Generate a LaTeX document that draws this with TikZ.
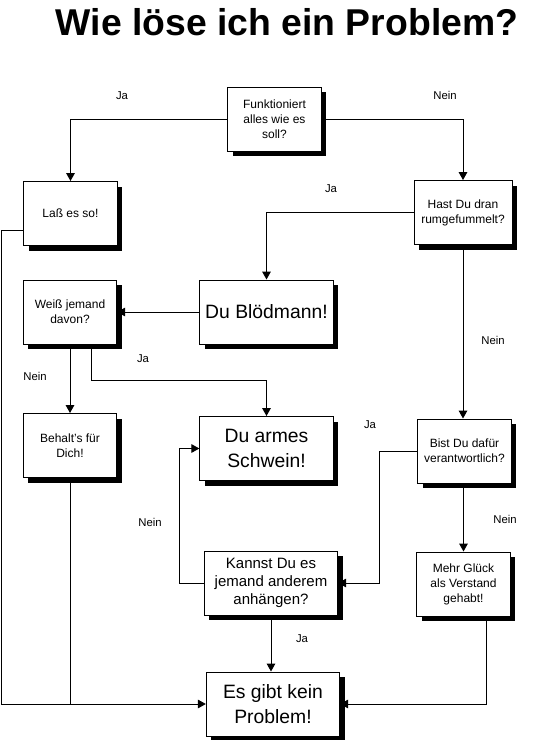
\documentclass[tikz,border=0pt]{standalone}
\usepackage{fontspec}
\setmainfont{Liberation Sans}
\usetikzlibrary{arrows.meta, shadows}

\begin{document}
\begin{tikzpicture}[x=0.75pt, y=-0.75pt,
		box/.style={rectangle, draw, fill=white, line width=0.75pt, align=center, inner sep=1pt,
			minimum width=70pt, minimum height=48pt, font=\fontsize{9}{11.25}\selectfont,
			drop shadow={shadow xshift=3.75pt, shadow yshift=-3.75pt, fill=black, opacity=1}},
		bigbox/.style={box, minimum width=100pt, font=\fontsize{14.5}{18.75}\selectfont},
		mylabel/.style={font=\fontsize{8.5}{10}\selectfont},
		ttl/.style={font=\fontsize{28}{32}\selectfont\bfseries, anchor=base},
		every path/.style={line width=0.75pt},
		>={Triangle[width=6.5pt, length=6pt]}
		]
		
		\useasboundingbox (0,0) rectangle (540,740);
		
		\node[ttl] (title) at (287,35) {Wie löse ich ein Problem?};
		
		\node[box] (fk) at (274.5, 119) {Funktioniert\\alles wie es\\soll?};
		\node[box] (ls) at (70.5, 213.5) {Laß es so!};
		\node[box, minimum width=73.5pt] (hd) at (463, 212.5) {Hast Du dran\\rumgefummelt?};
		\node[box] (wj) at (70, 312) {Weiß jemand\\davon?};
		\node[bigbox] (db) at (266.5, 312) {Du Blödmann!};
		\node[box] (bh) at (70, 445.5) {Behalt's für\\Dich!};
		\node[bigbox] (da) at (266.5, 448.5) {Du armes\\Schwein!};
		\node[box] (bd) at (464.5, 451) {Bist Du dafür\\verantwortlich?};
		\node[bigbox, font=\fontsize{11.25}{13.5}\selectfont] (kd) at (271, 583) {Kannst Du es\\jemand anderem\\anhängen?};
		\node[box] (mg) at (463.5, 584) {Mehr Glück\\als Verstand\\gehabt!};
		\node[bigbox] (eg) at (273, 704) {Es gibt kein\\Problem!};
		
		\draw[->] (fk.west) -| (ls.north);
		\draw[->] (fk.east) -| (hd.north);
		\draw[->] (hd.west) -| (db.north);
		\draw[->] (hd.south) -- (hd.south |- bd.north);
		\draw[->] (db.west) -- (wj.east);
		\draw[->] (wj.south) -- (bh.north);
		\draw[->] ([xshift=15.75pt]wj.south) -- ++(0,36) -| (da.north);
		\draw[->] (bd.west) -- ++(-38,0) |- (kd.east);
		\draw[->] (kd.west) -- ++(-24,0) |- (da.west);
		\draw[->] (bd.south -| mg.north) -- (mg.north);
		\draw[->] (kd.south) -- (kd.south |- eg.north);
		\draw[->] ([xshift=17.6pt]mg.south) |- (eg.east);
		\draw[->] ([yshift=-12.4pt]ls.west) -- ++(-22,0) |- (eg.west);
		\draw (bh.south) -- (bh.south |- eg.west);
		
		\node[mylabel] (l1) at (122, 96) {Ja};
		\node[mylabel] (l2) at (445, 95) {Nein};
		\node[mylabel] (l3) at (331, 189) {Ja};
		\node[mylabel] (l4) at (493, 340) {Nein};
		\node[mylabel] (l5) at (143, 359) {Ja};
		\node[mylabel] (l6) at (35, 376) {Nein};
		\node[mylabel] (l7) at (370, 425) {Ja};
		\node[mylabel] (l8) at (150, 522) {Nein};
		\node[mylabel] (l9) at (505, 519) {Nein};
		\node[mylabel] (l10) at (302, 639) {Ja};
		
\end{tikzpicture}
\end{document}
